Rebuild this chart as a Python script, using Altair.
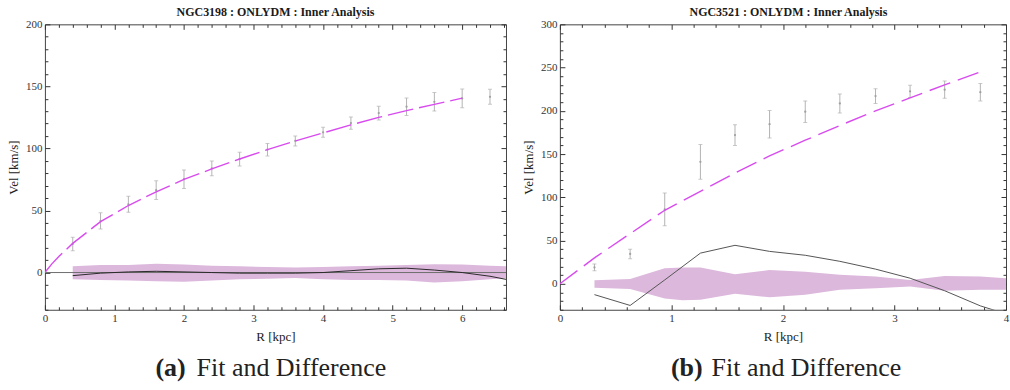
import altair as alt
import pandas as pd

# ---------------- data: panel (a) NGC3198 ----------------
A_R = [0.4, 0.8, 1.2, 1.6, 2.0, 2.4, 2.8, 3.2, 3.6, 4.0, 4.4, 4.8, 5.2, 5.6, 6.0, 6.4]
A_V = [23, 41.6, 55, 66.4, 75.2, 83.9, 91.4, 99, 106, 113, 120.4, 128.5, 133.6, 137.6, 140.3, 141.6]
A_E = [5.5, 6.5, 6.5, 7.5, 7.5, 6, 5.5, 5, 4, 4, 5, 5.5, 7, 7.5, 7.5, 6]

A_FIT_R = [0, 0.1, 0.2, 0.4, 0.8, 1.2, 1.6, 2.0, 2.4, 2.8, 3.2, 3.6, 4.0, 4.4, 4.8, 5.2, 5.6, 6.0]
A_FIT_V = [0, 7, 13, 23.5, 41, 54, 65, 75, 83.5, 91.5, 99, 106, 112.5, 119, 125, 130.5, 135.5, 140.5]

A_BAND_R = [0.4, 0.8, 1.2, 1.6, 2.0, 2.4, 2.8, 3.2, 3.6, 4.0, 4.4, 4.8, 5.2, 5.6, 6.0, 6.4, 6.63]
A_BAND_HI = [5, 6, 6, 7, 6.5, 5.5, 5, 4.5, 4, 4.5, 5, 5.5, 6, 6.7, 6.5, 5.5, 5]
A_BAND_LO = [-5.5, -6, -6.5, -7, -7.5, -6.5, -5.5, -5, -4.5, -5.5, -6, -6, -6.5, -8, -7, -5.5, -4.6]

A_DIFF_R = [0.4, 0.8, 1.2, 1.6, 2.0, 2.4, 2.8, 3.2, 3.6, 4.0, 4.4, 4.8, 5.2, 5.6, 6.0, 6.4, 6.63]
A_DIFF_V = [-2.5, -0.5, 0.5, 1, 0.5, 0, -0.5, -0.5, -0.5, 0, 1.5, 3, 3.5, 2, 0, -3, -5.5]

A_ZERO_R = [0, 6.63]
A_ZERO_V = [0, 0]

# ---------------- data: panel (b) NGC3521 ----------------
B_R = [0.31, 0.63, 0.94, 1.26, 1.57, 1.88, 2.20, 2.51, 2.83, 3.14, 3.45, 3.77]
B_V = [19, 34.5, 86, 141, 172, 184.5, 199, 208.5, 217, 222.5, 224.5, 221.5]
B_E = [4, 5.5, 19, 20, 12, 16, 12.5, 11, 8.5, 7, 10, 10]

B_FIT_R = [0, 0.31, 0.63, 0.94, 1.26, 1.57, 1.88, 2.20, 2.51, 2.83, 3.14, 3.45, 3.77]
B_FIT_V = [0, 30, 58, 85, 107, 128, 148, 166, 183, 200, 215, 230, 245]

B_BAND_R = [0.31, 0.63, 0.94, 1.1, 1.26, 1.57, 1.88, 2.20, 2.51, 2.83, 3.14, 3.45, 3.77, 4.0]
B_BAND_HI = [4, 5.5, 18, 19, 19, 11, 16, 14, 10.5, 8.5, 4.5, 9, 8.5, 6.5]
B_BAND_LO = [-4.5, -6, -17, -19, -18.5, -11.5, -15.5, -12.5, -7, -5, -3, -8, -7, -7]

B_DIFF_R = [0.31, 0.63, 0.94, 1.26, 1.57, 1.88, 2.20, 2.51, 2.83, 3.14, 3.45, 3.77, 4.08]
B_DIFF_V = [-12.5, -25, 4.5, 35.5, 44.5, 37.5, 33, 26, 17, 6.5, -8, -25.5, -38]

# ---------------- text / ticks ----------------
TITLES = ["NGC3198 : ONLYDM : Inner Analysis", "NGC3521 : ONLYDM : Inner Analysis"]
CAP_TAGS = ["(a)", "(b)"]
CAP_TEXT = "Fit and Difference"
X_TITLE = "R [kpc]"
Y_TITLE = "Vel [km/s]"

A_XDOM = [0, 6.63]
A_YDOM = [-30, 200]
A_XMAJ = [0, 1, 2, 3, 4, 5, 6]
A_YMAJ = [0, 50, 100, 150, 200]
B_XDOM = [0, 4]
B_YDOM = [-30, 300]
B_XMAJ = [0, 1, 2, 3, 4]
B_YMAJ = [0, 50, 100, 150, 200, 250, 300]


def minor(lo, hi, step, majors):
    out = []
    k = 0
    while True:
        v = round(lo + k * step, 4)
        if v > hi + 1e-9:
            break
        if all(abs(v - m) > 1e-6 for m in majors):
            out.append(v)
        k += 1
    return out


FONT = "Liberation Serif"
TICK = "#333333"


def make_axes(xmaj, xmin, ymaj, ymin):
    common = dict(domain=False, grid=False, tickColor=TICK, tickWidth=1,
                  labelFont=FONT, titleFont=FONT, labelFontSize=11, titleFontSize=13,
                  titleFontWeight="normal", labelColor="#333333", titleColor="#222222")
    xa = [
        alt.Axis(orient="bottom", values=xmaj, tickSize=5, offset=-5, title=X_TITLE,
                 labelFlush=False, labelPadding=3, titlePadding=7, **common),
        alt.Axis(orient="bottom", values=xmin, tickSize=3, offset=-3, labels=False, title=None, **common),
        alt.Axis(orient="top", values=xmaj, tickSize=5, offset=-5, labels=False, title=None, **common),
        alt.Axis(orient="top", values=xmin, tickSize=3, offset=-3, labels=False, title=None, **common),
    ]
    ya = [
        alt.Axis(orient="left", values=ymaj, tickSize=5, offset=-5, title=Y_TITLE,
                 labelFlush=False, labelPadding=3, titlePadding=5, **common),
        alt.Axis(orient="left", values=ymin, tickSize=3, offset=-3, labels=False, title=None, **common),
        alt.Axis(orient="right", values=ymaj, tickSize=5, offset=-5, labels=False, title=None, **common),
        alt.Axis(orient="right", values=ymin, tickSize=3, offset=-3, labels=False, title=None, **common),
    ]
    return xa, ya


def panel(idx, R, V, E, fitR, fitV, bandR, bandHi, bandLo, diffR, diffV, zeroR, zeroV,
          xdom, ydom, xmaj, ymaj, w, h, dash, diff_color, cap_right, cap_left, title_x):
    xmin = minor(xdom[0], xdom[1], 0.2, xmaj)
    ymin = minor(ydom[0], ydom[1], 10, ymaj)
    xa, ya = make_axes(xmaj, xmin, ymaj, ymin)

    pts = pd.DataFrame({"R": R, "V": V, "lo": [v - e for v, e in zip(V, E)],
                        "hi": [v + e for v, e in zip(V, E)]})
    fit = pd.DataFrame({"R": fitR, "V": fitV})
    band = pd.DataFrame({"R": bandR, "V": bandLo, "hi": bandHi})
    diff = pd.DataFrame({"R": diffR, "V": diffV})

    xs = alt.Scale(domain=xdom, nice=False, zero=False)
    ys = alt.Scale(domain=ydom, nice=False, zero=False)

    specs = []
    specs.append((alt.Chart(band).mark_area(color="#dcb8dc", opacity=1, clip=True), "area"))
    if zeroR is not None:
        z = pd.DataFrame({"R": zeroR, "V": zeroV})
        specs.append((alt.Chart(z).mark_line(color="#6e6e6e", strokeWidth=1, clip=True), "line"))
    specs.append((alt.Chart(diff).mark_line(color=diff_color, strokeWidth=1, clip=True), "line"))
    specs.append((alt.Chart(pts).mark_rule(color="#b4b4b4", strokeWidth=1, clip=True), "rule"))
    specs.append((alt.Chart(pts).mark_tick(color="#b4b4b4", orient="horizontal", size=4,
                                           thickness=1, clip=True), "caplo"))
    specs.append((alt.Chart(pts).mark_tick(color="#b4b4b4", orient="horizontal", size=4,
                                           thickness=1, clip=True), "caphi"))
    specs.append((alt.Chart(pts).mark_point(color="#a0a0a0", filled=True, size=5, opacity=1,
                                            clip=True), "point"))
    specs.append((alt.Chart(fit).mark_line(color="#d84bef", strokeWidth=1.4,
                                           strokeDash=dash, clip=True), "line"))

    layers = []
    for i, (ch, kind) in enumerate(specs):
        xax = xa[i] if i < len(xa) else None
        yax = ya[i] if i < len(ya) else None
        xenc = alt.X("R:Q", scale=xs, axis=xax)
        if kind in ("caplo", "rule"):
            yenc = alt.Y("lo:Q", scale=ys, axis=yax)
        elif kind == "caphi":
            yenc = alt.Y("hi:Q", scale=ys, axis=yax)
        else:
            yenc = alt.Y("V:Q", scale=ys, axis=yax)
        enc = dict(x=xenc, y=yenc)
        if kind in ("area", "rule"):
            enc["y2"] = alt.Y2("hi:Q")
        if kind == "line":
            enc["order"] = alt.Order("R:Q")
        layers.append(ch.encode(**enc))

    ttl = alt.Chart(pd.DataFrame({"t": [TITLES[idx]]})).mark_text(
        font=FONT, fontSize=12, fontWeight="bold", align="center", baseline="alphabetic",
        color="#1a1a1a"
    ).encode(x=alt.value(title_x), y=alt.value(-8), text="t:N")
    cap1 = alt.Chart(pd.DataFrame({"t": [CAP_TAGS[idx]]})).mark_text(
        font=FONT, fontSize=26, fontWeight="bold", align="right", baseline="alphabetic", color="#222222"
    ).encode(x=alt.value(cap_right), y=alt.value(h + 66), text="t:N")
    cap2 = alt.Chart(pd.DataFrame({"t": [CAP_TEXT]})).mark_text(
        font=FONT, fontSize=26, align="left", baseline="alphabetic", color="#222222"
    ).encode(x=alt.value(cap_left), y=alt.value(h + 66), text="t:N")
    layers += [ttl, cap1, cap2]

    return alt.layer(*layers).resolve_axis(x="independent", y="independent").properties(
        width=w, height=h,
    )


pa = panel(0, A_R, A_V, A_E, A_FIT_R, A_FIT_V, A_BAND_R, A_BAND_HI, A_BAND_LO, A_DIFF_R, A_DIFF_V,
           A_ZERO_R, A_ZERO_V, A_XDOM, A_YDOM, A_XMAJ, A_YMAJ, 462, 286, [26, 6], "#2a2a2a",
           141, 152, 231)
pb = panel(1, B_R, B_V, B_E, B_FIT_R, B_FIT_V, B_BAND_R, B_BAND_HI, B_BAND_LO, B_DIFF_R, B_DIFF_V,
           None, None, B_XDOM, B_YDOM, B_XMAJ, B_YMAJ, 447, 286, [22, 8], "#555555",
           143, 152, 229)

chart = alt.hconcat(pa, pb, spacing=54, bounds="flush").properties(
    padding={"left": 7, "top": 5, "right": 0, "bottom": 0},
    background="white",
).configure_view(stroke="#444444", strokeWidth=1)

chart.save("out.html", embed_options={"renderer": "svg", "actions": False})
